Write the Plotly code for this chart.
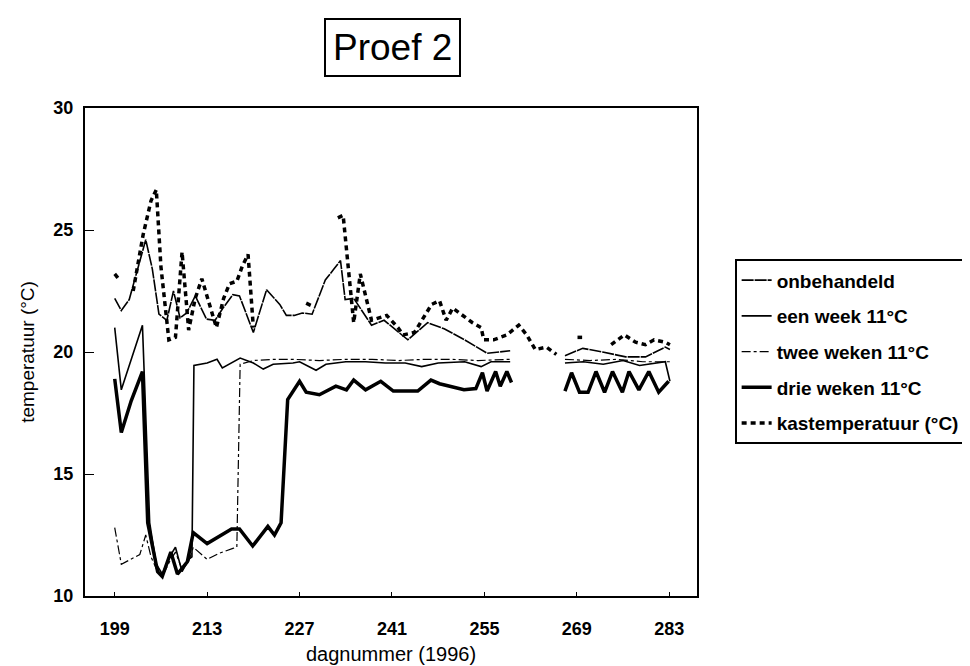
import plotly.graph_objects as go

# ---- data ----
onb_x = [199, 200, 201.2, 202, 203.7, 204.7, 205.7, 206.9, 207.9, 208.9, 209.9, 211.2, 212.9, 214.2,
         215.4, 216.9, 217.9, 220, 222, 224, 225, 226.2, 227.4, 228.9, 230.9, 232.2, 233.2, 233.9,
         235.2, 237.9, 239.8, 243.4, 246.4, 248.9, 252, 255.4, 258.9,
         None,
         267.2, 269.9, 272.9, 276.4, 279.4, 282.4, 283.1]
onb_y = [22.2, 21.7, 22.15, 22.9, 24.6, 23.4, 21.55, 21.3, 22.5, 21.4, 21.6, 22.3, 21.35, 21.3,
         21.8, 22.35, 22.3, 20.8, 22.55, 21.95, 21.5, 21.5, 21.6, 21.55, 22.95, 23.4, 23.75, 22.15,
         22.2, 21.1, 21.3, 20.5, 21.2, 20.95, 20.5, 19.95, 20.05,
         None,
         19.85, 20.15, 20.0, 19.8, 19.8, 20.2, 20.1]

een_x = [199, 200, 203.2, 204.3, 205.3, 206.2, 207.3, 208.2, 209.2, 210.2, 210.7, 211.0, 213,
         214.5, 215.3, 217, 218, 220, 221.5, 223, 226, 227, 229.5, 231, 234, 237, 240, 243,
         245.5, 248, 252, 254.5, 256, 258.9,
         None,
         267.2, 270, 273, 276, 278.5, 281, 282.4, 283.1]
een_y = [21.0, 18.45, 21.1, 13.0, 11.3, 10.9, 11.6, 12.0, 11.0, 11.5, 11.6, 19.45, 19.55,
         19.7, 19.35, 19.6, 19.75, 19.55, 19.3, 19.5, 19.55, 19.6, 19.25, 19.5, 19.6, 19.6, 19.55, 19.55,
         19.4, 19.55, 19.6, 19.4, 19.6, 19.6,
         None,
         19.55, 19.6, 19.5, 19.65, 19.45, 19.55, 19.6, 18.8]

twee_x = [199, 200, 202.8, 203.7, 204.5, 205.5, 206.2, 207.3, 208.2, 209.2, 210.2, 210.9, 213,
          214.8, 216.9, 217.5, 218.0, 220, 223, 226, 230, 234, 238, 242, 246, 250, 254, 258.9,
          None,
          267.2, 271, 275, 279, 283.1]
twee_y = [12.8, 11.3, 11.7, 12.5, 11.6, 11.0, 10.8, 11.4, 11.8, 11.1, 11.4, 12.0, 11.5,
          11.75, 11.95, 12.0, 19.5, 19.65, 19.7, 19.7, 19.65, 19.7, 19.7, 19.65, 19.7, 19.7, 19.65, 19.7,
          None,
          19.7, 19.65, 19.7, 19.6, 19.6]

drie_x = [199, 200, 201.5, 203.2, 204.0, 205.5, 206.2, 207.5, 208.5, 210, 210.9, 213, 216.7,
          217.9, 219.9, 222.2, 223.2, 224.2, 225.2, 227, 228, 230, 232.5, 234.1, 235.2, 237,
          239.3, 241.2, 244.9, 246.9, 248.2, 251.9, 253.7, 254.7, 255.4, 256.7, 257.4, 258.4, 259.1,
          None,
          267.2, 268.2, 269.4, 270.7, 271.9, 273.2, 274.4, 275.9, 276.9, 278.4, 279.9, 281.4, 282.9]
drie_y = [18.9, 16.7, 18.0, 19.2, 13.0, 11.0, 10.8, 11.8, 10.9, 11.4, 12.6, 12.15, 12.75,
          12.75, 12.05, 12.85, 12.5, 13.0, 18.05, 18.8, 18.35, 18.25, 18.6, 18.45, 18.85, 18.45,
          18.8, 18.4, 18.4, 18.85, 18.7, 18.45, 18.5, 19.15, 18.4, 19.2, 18.6, 19.2, 18.75,
          None,
          18.4, 19.15, 18.35, 18.35, 19.2, 18.35, 19.2, 18.35, 19.2, 18.45, 19.2, 18.35, 18.8]

kast_x = [199, 199.6,
          None,
          201.8, 203.3, 204.5, 205.3, 206, 207.2, 208.2, 209.2, 210.2, 211.2, 212.2, 213.3,
          214.4, 215.5, 216.4, 217.5, 218.3, 219.2, 220,
          None,
          228.0, 228.8,
          None,
          232.8, 233.6, 235.2, 236.2, 237.9, 240.2, 241.9, 242.7, 244.4, 245.5, 247, 248.2, 249.2,
          250.2, 251.7, 253.2, 254.5, 254.9, 256.4, 258.4, 260.2, 261.4, 262.7, 264.4, 265.9,
          None,
          269.1, 269.8,
          None,
          274.2, 276.2, 277.9, 279.4, 280.7, 282.4, 283.1]
kast_y = [23.2, 23.0,
          None,
          22.5, 24.8, 26.2, 26.65, 23.5, 20.5, 20.6, 24.1, 20.9, 22.2, 23.0, 22.0,
          21.0, 22.2, 22.8, 22.9, 23.5, 24.0, 21.0,
          None,
          22.0, 21.9,
          None,
          25.5, 25.6, 21.2, 23.2, 21.3, 21.5, 21.0, 20.7, 20.8, 21.3, 21.95, 22.1, 21.3,
          21.8, 21.5, 21.2, 21.0, 20.5, 20.5, 20.7, 21.1, 20.7, 20.1, 20.2, 19.9,
          None,
          20.6, 20.6,
          None,
          20.3, 20.7, 20.4, 20.3, 20.5, 20.4, 20.3]

series_names = ["onbehandeld", "een week 11°C", "twee weken 11°C", "drie weken 11°C",
                "kastemperatuur (°C)"]
x_ticks = [199, 213, 227, 241, 255, 269, 283]
y_ticks = [10, 15, 20, 25, 30]

# ---- figure ----
fig = go.Figure()
styles = [
    dict(width=1.6, dash="12px,1px"),
    dict(width=1.6, dash="solid"),
    dict(width=1.2, dash="dashdot"),
    dict(width=3.5, dash="solid"),
    dict(width=3.5, dash="5px,4px"),
]
data = [(onb_x, onb_y), (een_x, een_y), (twee_x, twee_y), (drie_x, drie_y), (kast_x, kast_y)]
for i, ((xs, ys), name, st) in enumerate(zip(data, series_names, styles)):
    fig.add_trace(go.Scatter(
        x=xs, y=ys, name=name, mode="lines", connectgaps=False,
        line=dict(color="black", **st), legendgroup=f"g{i}",
    ))

font_family = "Liberation Sans, Arial, sans-serif"
fig.update_layout(
    width=970, height=666,
    margin=dict(l=77, r=275, t=100, b=69),
    paper_bgcolor="white", plot_bgcolor="white",
    font=dict(family=font_family, color="black"),
    showlegend=True,
    legend=dict(
        x=1.0615, y=0.690, xanchor="left", yanchor="top",
        bordercolor="black", borderwidth=2, bgcolor="white",
        font=dict(size=19, family=font_family, weight="bold"),
        tracegroupgap=8,
    ),
    xaxis=dict(
        range=[194.5, 287.2], tickvals=x_ticks, ticktext=[str(v) for v in x_ticks],
        showgrid=False, zeroline=False, showline=True, linecolor="black", linewidth=2,
        mirror=True, ticks="inside", ticklen=4, tickcolor="black",
        tickfont=dict(size=18, weight="bold"), ticklabelstandoff=15,
        title=dict(text="dagnummer (1996)", font=dict(size=20), standoff=9),
    ),
    yaxis=dict(
        range=[10, 30], tickvals=y_ticks,
        showgrid=False, zeroline=False, showline=True, linecolor="black", linewidth=2,
        mirror=True, ticks="inside", ticklen=9, tickcolor="black",
        tickfont=dict(size=18, weight="bold"), ticklabelstandoff=6,
        title=dict(text="temperatuur (°C)", font=dict(size=19), standoff=14),
    ),
    annotations=[dict(
        text="Proef 2", xref="paper", yref="paper", x=0.5032, y=1.1237,
        xanchor="center", yanchor="middle", showarrow=False,
        font=dict(size=37, family=font_family), bordercolor="black", borderwidth=2,
        borderpad=7, bgcolor="white",
    )],
)

fig.write_html("out.html")
